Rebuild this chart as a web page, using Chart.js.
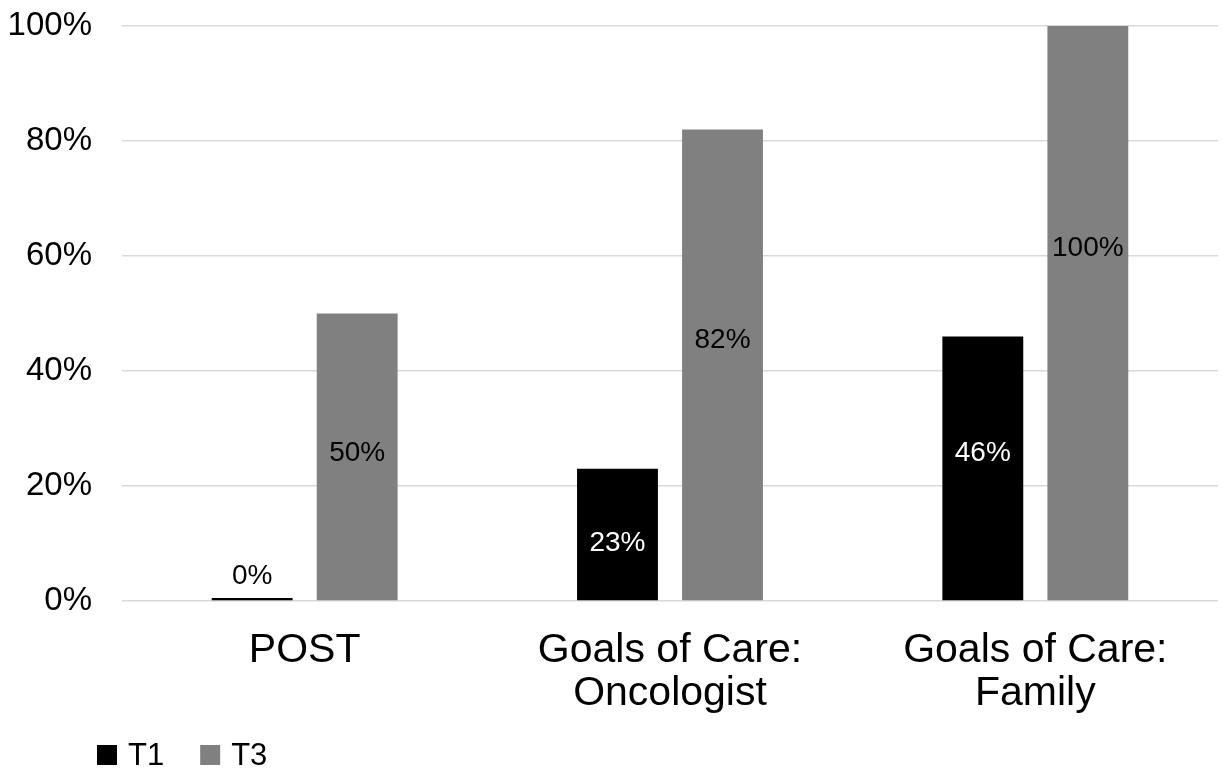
<!DOCTYPE html>
<html>
<head>
<meta charset="utf-8">
<script src="https://cdn.jsdelivr.net/npm/chart.js@4/dist/chart.umd.min.js"></script>
<style>
  html, body { margin: 0; padding: 0; background: #ffffff; }
  canvas { display: block; }
</style>
</head>
<body>
<canvas id="chart" width="1223" height="772"></canvas>
<script>
// Categories (multi-line where the axis label wraps)
const categories = ['POST', ['Goals of Care:', 'Oncologist'], ['Goals of Care:', 'Family']];
const seriesNames = ['T1', 'T3'];
const t1Values = [0, 23, 46];
const t3Values = [50, 82, 100];
const yTicks = [0, 20, 40, 60, 80, 100];

const FONT = '"Liberation Sans", Arial, Helvetica, sans-serif';
const T1_COLOR = '#000000';
const T3_COLOR = '#808080';
const GRID_COLOR = '#d9d9d9';

// Value labels: inside labels sit at a fraction of the bar height from the base;
// a zero bar gets its label just above the bar.
const valueLabelPlugin = {
  id: 'valueLabels',
  afterDatasetsDraw(chart, args, opts) {
    const ctx = chart.ctx;
    ctx.save();
    ctx.font = `${opts.size}px ${FONT}`;
    ctx.textAlign = 'center';
    ctx.textBaseline = 'middle';
    chart.data.datasets.forEach((ds, di) => {
      const meta = chart.getDatasetMeta(di);
      meta.data.forEach((bar, i) => {
        const v = ds.data[i];
        const text = v + '%';
        if (v === 0) {
          ctx.fillStyle = '#000000';
          ctx.fillText(text, bar.x, Math.min(bar.y, bar.base) - 22);
        } else {
          const frac = opts.anchor[di][i];
          const y = bar.base - frac * (bar.base - bar.y);
          ctx.fillStyle = opts.insideColor[di];
          ctx.fillText(text, bar.x, y);
        }
      });
    });
    ctx.restore();
  }
};

// Legend drawn along the bottom-left edge
const bottomLegendPlugin = {
  id: 'bottomLegend',
  afterDraw(chart, args, opts) {
    const ctx = chart.ctx;
    ctx.save();
    ctx.font = `${opts.size}px ${FONT}`;
    ctx.textBaseline = 'middle';
    ctx.textAlign = 'left';
    let x = opts.x;
    chart.data.datasets.forEach(ds => {
      ctx.fillStyle = ds.backgroundColor;
      ctx.fillRect(x, opts.y - opts.box / 2, opts.box, opts.box);
      ctx.fillStyle = '#000000';
      const tx = x + opts.box + opts.gap;
      ctx.fillText(ds.label, tx, opts.y + 1);
      x = tx + ctx.measureText(ds.label).width + opts.itemGap;
    });
    ctx.restore();
  }
};

new Chart(document.getElementById('chart'), {
  type: 'bar',
  data: {
    labels: categories,
    datasets: [
      {
        label: seriesNames[0],
        data: t1Values,
        backgroundColor: T1_COLOR,
        minBarLength: 3,
        categoryPercentage: 0.575,
        barPercentage: 0.77
      },
      {
        label: seriesNames[1],
        data: t3Values,
        backgroundColor: T3_COLOR,
        categoryPercentage: 0.575,
        barPercentage: 0.77
      }
    ]
  },
  options: {
    responsive: false,
    animation: false,
    layout: { padding: { top: 26, right: 5, bottom: 0, left: 0 } },
    plugins: {
      legend: { display: false },
      tooltip: { enabled: false },
      valueLabels: {
        size: 28,
        insideColor: ['#ffffff', '#000000'],
        anchor: [[0, 0.435, 0.557], [0.512, 0.552, 0.613]]
      },
      bottomLegend: { x: 97, y: 755, box: 20, gap: 11, itemGap: 36, size: 31 }
    },
    scales: {
      x: {
        grid: { display: false, drawTicks: false },
        border: { display: false },
        ticks: {
          color: '#000000',
          padding: 28,
          maxRotation: 0,
          autoSkip: false,
          font: { family: FONT, size: 41, lineHeight: 1.05 }
        },
        afterFit(scale) { scale.height = 171; }
      },
      y: {
        min: 0,
        max: 100,
        afterBuildTicks(scale) { scale.ticks = yTicks.map(v => ({ value: v })); },
        grid: { color: GRID_COLOR, lineWidth: 1.5, drawTicks: false },
        border: { display: false },
        ticks: {
          color: '#000000',
          padding: 30,
          font: { family: FONT, size: 33 },
          callback: v => v + '%'
        },
        afterFit(scale) {
          scale.width = 122;
          scale.paddingTop = 0;
          scale.paddingBottom = 0;
        }
      }
    }
  },
  plugins: [valueLabelPlugin, bottomLegendPlugin]
});
</script>
</body>
</html>
